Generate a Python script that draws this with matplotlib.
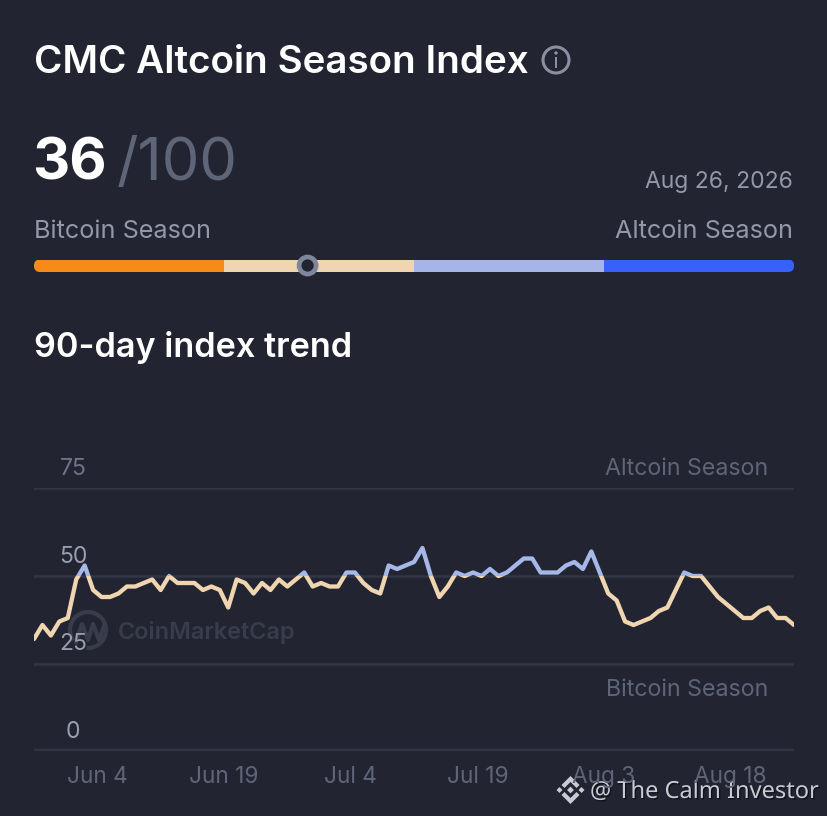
import matplotlib
matplotlib.use("Agg")
import matplotlib.pyplot as plt
import matplotlib.patheffects as pe
from matplotlib.patches import Circle, FancyBboxPatch, Rectangle, Arc, RegularPolygon, Polygon
import numpy as np

# --- data -------------------------------------------------------------
index_values = [32, 36, 33, 37, 38, 49, 53, 46, 44, 44, 45, 47, 47, 48, 49, 46, 50, 48, 48, 48,
                46, 47, 46, 41, 49, 48, 45, 48, 46, 49, 47, 49, 51, 47, 48, 47, 47, 51, 51, 48,
                46, 45, 53, 52, 53, 54, 58, 50, 44, 47, 51, 50, 51, 50, 52, 50, 51, 53, 55, 55,
                51, 51, 51, 53, 54, 52, 57, 51, 45, 43, 37, 36, 37, 38, 40, 41, 46, 51, 50, 50,
                47, 44, 42, 40, 38, 38, 40, 41, 38, 38, 36]
date_labels = ["Jun 4", "Jun 19", "Jul 4", "Jul 19", "Aug 3", "Aug 18"]
date_ticks = [7.5, 22.5, 37.5, 52.5, 67.5, 82.5]
y_ticks = [0, 25, 50, 75]
current_value = 36
season_edges = [0, 25, 50, 75, 100]
season_colors = ["#F68C17", "#F0D5B1", "#A6B5E8", "#3861FB"]

BG = "#222531"
GRID = "#323546"
BEIGE = "#F0D5B1"
LBLUE = "#A6B8E8"
DIM = "#5F6578"
MID = "#9A9EB0"
FONT = "Inter"

plt.rcParams["font.family"] = [FONT, "DejaVu Sans"]
W, H = 828, 816
fig = plt.figure(figsize=(W / 100, H / 100), dpi=100, facecolor=BG)

# --- overlay in pixel coordinates --------------------------------------
ov = fig.add_axes([0, 0, 1, 1], zorder=1)
ov.set_xlim(0, W); ov.set_ylim(H, 0); ov.axis("off")

ov.text(34, 63, "CMC Altcoin Season Index", color="white", fontsize=27.8, fontweight="semibold",
        va="center", ha="left")
ov.add_patch(Circle((556, 60), 13, fill=False, ec="#8A8FA3", lw=2.2))
ov.add_patch(Circle((556, 53), 1.7, fc="#8A8FA3", ec="none"))
ov.add_patch(Rectangle((554.9, 57), 2.2, 11, fc="#8A8FA3", ec="none"))

ov.text(32.5, 180, str(current_value), color="white", fontsize=41.5, fontweight="bold", va="baseline")
ov.text(117, 180, "/100", color="#5F6578", fontsize=43, va="baseline")
ov.text(793, 182, "Aug 26, 2026", color="#9297A9", fontsize=16.5, ha="right", va="center")
ov.text(34, 232, "Bitcoin Season", color="#9297A9", fontsize=18.2, va="center")
ov.text(793, 232, "Altcoin Season", color="#9297A9", fontsize=18.2, ha="right", va="center")
ov.text(34, 348, "90-day index trend", color="white", fontsize=24.65, fontweight="semibold", va="center")

# gauge bar
bx0, bx1, by0, by1 = 34, 794, 259.5, 272
scale = lambda v: bx0 + (bx1 - bx0) * v / 100
clip = FancyBboxPatch((bx0, by0), bx1 - bx0, by1 - by0, boxstyle="round,pad=0,rounding_size=6",
                      fc="none", ec="none")
ov.add_patch(clip)
for a, b, c in zip(season_edges[:-1], season_edges[1:], season_colors):
    r = Rectangle((scale(a), by0), scale(b) - scale(a), by1 - by0, fc=c, ec="none")
    ov.add_patch(r)
    r.set_clip_path(clip)
ov.add_patch(Circle((scale(current_value), 265.5), 8.5, fc="#222531", ec="#7F869C", lw=3.4, zorder=5))

# watermark
WM = "#383C4B"
ov.text(118, 632, "CoinMarketCap", color=WM, fontsize=16.9, fontweight="semibold", va="center", zorder=0.5)
ov.add_patch(Arc((88, 630), 36, 36, theta1=-215, theta2=95, ec=WM, lw=3, zorder=0.5))
ov.plot([76, 82, 88, 93, 99, 104], [642, 624, 640, 624, 640, 626], color=WM, lw=3, zorder=0.5)

# credit
CR = "#C9CBD3"
sh = [pe.withSimplePatchShadow(offset=(1, -1), shadow_rgbFace="#000000", alpha=0.5)]
ov.text(590, 792, "@ The Calm Investor", color=CR, fontsize=17.0, family="Noto Sans",
        va="center", zorder=6, path_effects=sh)
cx, cy = 570.5, 790
for sgn in (-1, 1):
    ov.add_patch(Polygon([(cx, cy + sgn * 14), (cx + 9, cy + sgn * 5), (cx + 6, cy + sgn * 2),
                          (cx, cy + sgn * 8), (cx - 6, cy + sgn * 2), (cx - 9, cy + sgn * 5)],
                         fc=CR, ec="none", zorder=6))
    ov.add_patch(RegularPolygon((cx + sgn * 11, cy), 4, radius=3, fc=CR, ec="none", zorder=6))
ov.add_patch(RegularPolygon((cx, cy), 4, radius=3.4, fc=CR, ec="none", zorder=6))

# --- trend chart -------------------------------------------------------
ax = fig.add_axes([34 / W, 1 - 751 / H, 760 / W, (751 - 488.5) / H], zorder=2)
ax.patch.set_alpha(0)
ax.set_xlim(0, 90); ax.set_ylim(0, 75)
for s in ax.spines.values():
    s.set_visible(False)
ax.set_xticks(date_ticks, date_labels, color=DIM, fontsize=16.3)
ax.tick_params(axis="x", length=0, pad=11)
ax.set_yticks(y_ticks, [])
ax.tick_params(axis="y", length=0)
ax.grid(axis="y", color=GRID, lw=1.8)
ax.set_axisbelow(True)
ax.plot([0, 90], [0, 0], color=GRID, lw=3.2, clip_on=True, zorder=1)

for v in y_ticks:
    ax.annotate(str(v), (0, v), xytext=(39, 19), textcoords="offset pixels", ha="center", va="center",
                color=MID if v < 75 else "#6F7486", fontsize=16.5, annotation_clip=False, zorder=1)
ax.annotate("Altcoin Season", (90, 75), xytext=(-26, 19), textcoords="offset pixels", ha="right",
            va="center", color=DIM, fontsize=16.7, annotation_clip=False)
ax.annotate("Bitcoin Season", (90, 25), xytext=(-26, -26), textcoords="offset pixels", ha="right",
            va="center", color=DIM, fontsize=16.7, annotation_clip=False)

xs = np.arange(len(index_values))
for color, rect in [(BEIGE, (0, 0, 90, 50)), (LBLUE, (0, 50, 90, 50))]:
    line, = ax.plot(xs, index_values, color=color, lw=3.1, solid_joinstyle="round",
                    solid_capstyle="round", clip_on=True, zorder=3)
    patch = Rectangle(rect[:2], rect[2], rect[3], transform=ax.transData)
    line.set_clip_path(patch)

fig.savefig("out.png", dpi=100, facecolor=BG)
